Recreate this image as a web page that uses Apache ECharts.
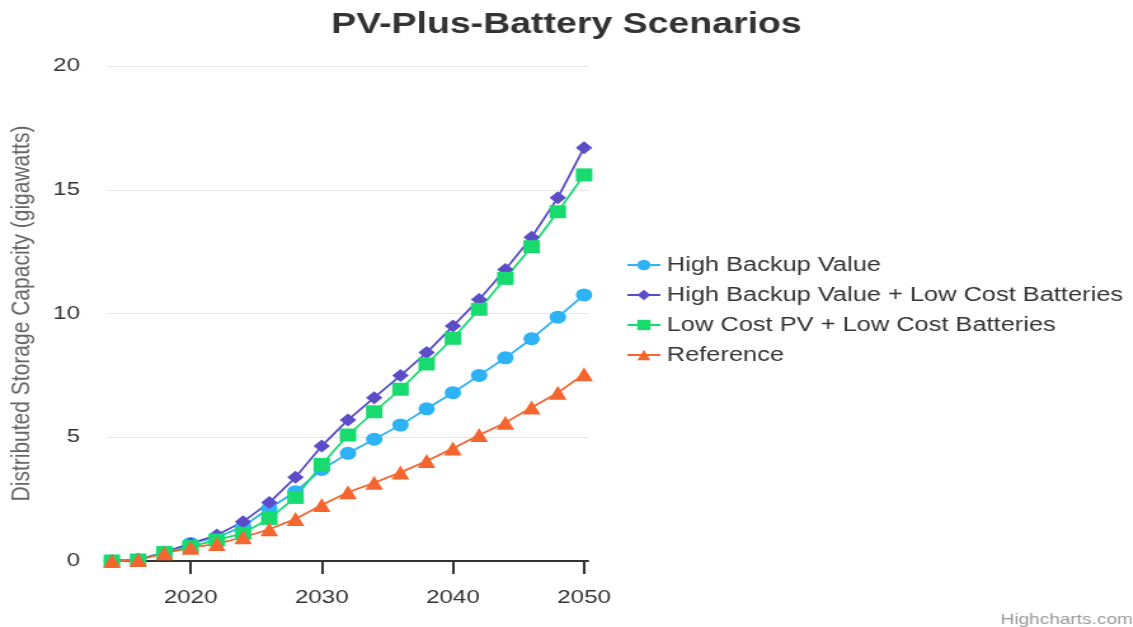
<!DOCTYPE html>
<html>
<head>
    <meta charset="utf-8" />
    <script src="https://cdn.jsdelivr.net/npm/echarts@6.0.0/dist/echarts.min.js"></script>
    <title>PV-Plus-Battery Scenarios</title>
    <style>
        html, body { margin: 0; padding: 0; background: #fff; overflow: hidden; }
        /* the reference is a horizontally stretched picture, so stretch the canvas the same way */
        #main { transform: scaleX(1.27); transform-origin: 0 0; }
    </style>
</head>
<body>
    <div id="main" style="width: 892px;height:627px;"></div>
</body>
</html>
<script>
    var years = [2014, 2016, 2018, 2020, 2022, 2024, 2026, 2028, 2030, 2032, 2034, 2036, 2038, 2040, 2042, 2044, 2046, 2048, 2050];
    var highBackup = [0, 0.05, 0.35, 0.71, 0.95, 1.4, 2.13, 2.8, 3.7, 4.35, 4.92, 5.49, 6.15, 6.8, 7.5, 8.21, 8.98, 9.85, 10.75];
    var highBackupLowBatt = [0, 0.06, 0.35, 0.7, 1.05, 1.59, 2.36, 3.38, 4.65, 5.7, 6.6, 7.49, 8.42, 9.49, 10.57, 11.78, 13.08, 14.68, 16.7];
    var lowPvLowBatt = [0, 0.04, 0.34, 0.58, 0.85, 1.12, 1.72, 2.57, 3.9, 5.09, 6.03, 6.94, 7.96, 9.0, 10.17, 11.42, 12.7, 14.11, 15.6];
    var reference = [0, 0.04, 0.31, 0.54, 0.69, 0.96, 1.28, 1.7, 2.26, 2.78, 3.16, 3.58, 4.04, 4.55, 5.09, 5.59, 6.2, 6.8, 7.55];
    var xTicks = [2020, 2030, 2040, 2050];

    function pairs(vals) {
        var out = [];
        for (var i = 0; i < years.length; i++) {
            out.push([years[i], vals[i]]);
        }
        return out;
    }

    function makeSeries(name, vals, color, symbol, size) {
        return {
            name: name,
            type: 'line',
            data: pairs(vals),
            symbol: symbol,
            symbolSize: size,
            showAllSymbol: true,
            lineStyle: { color: color, width: 1.8 },
            itemStyle: { color: color },
            emphasis: { disabled: true }
        };
    }

    var chart = echarts.init(document.getElementById('main'));
    var option = {
        animation: false,
        textStyle: { fontFamily: 'Liberation Sans, Arial, sans-serif' },
        title: {
            text: 'PV-Plus-Battery Scenarios',
            left: 'center',
            top: 5,
            textStyle: { fontSize: 29.5, fontWeight: 'bold', color: '#333333' }
        },
        legend: {
            orient: 'vertical',
            left: 488,
            top: 250,
            itemGap: 10,
            itemWidth: 26,
            itemHeight: 13,
            textStyle: { fontSize: 20, color: '#333333' },
            data: ['High Backup Value', 'High Backup Value + Low Cost Batteries', 'Low Cost PV + Low Cost Batteries', 'Reference']
        },
        grid: {
            left: 85,
            right: 429,
            top: 66,
            bottom: 66,
            containLabel: false
        },
        xAxis: {
            type: 'value',
            min: 2013.7,
            max: 2050.3,
            splitLine: { show: false },
            axisLine: { lineStyle: { color: '#333333', width: 2 } },
            axisTick: {
                customValues: xTicks,
                length: 13,
                lineStyle: { color: '#333333', width: 2 }
            },
            axisLabel: {
                customValues: xTicks,
                formatter: function (v) { return String(v); },
                fontSize: 19,
                color: '#333333',
                margin: 27
            }
        },
        yAxis: {
            type: 'value',
            min: 0,
            max: 20,
            interval: 5,
            name: 'Distributed Storage Capacity (gigawatts)',
            nameLocation: 'middle',
            nameGap: 57,
            nameTextStyle: { fontSize: 21, color: '#666666' },
            axisLine: { show: false },
            axisTick: { show: false },
            axisLabel: { fontSize: 19, color: '#333333', margin: 22 },
            splitLine: { lineStyle: { color: '#e6e6e6', width: 1 } }
        },
        series: [
            makeSeries('High Backup Value', highBackup, '#2db2f5', 'circle', 13),
            makeSeries('High Backup Value + Low Cost Batteries', highBackupLowBatt, '#5b4cc8', 'diamond', 13),
            makeSeries('Low Cost PV + Low Cost Batteries', lowPvLowBatt, '#17db6f', 'rect', 13),
            makeSeries('Reference', reference, '#f5652f', 'triangle', 14)
        ],
        graphic: [{
            type: 'text',
            right: 0,
            bottom: 0,
            style: { text: 'Highcharts.com', fontSize: 15, fill: '#999999', fontFamily: 'Liberation Sans, Arial, sans-serif' }
        }]
    };
    chart.setOption(option);
</script>
